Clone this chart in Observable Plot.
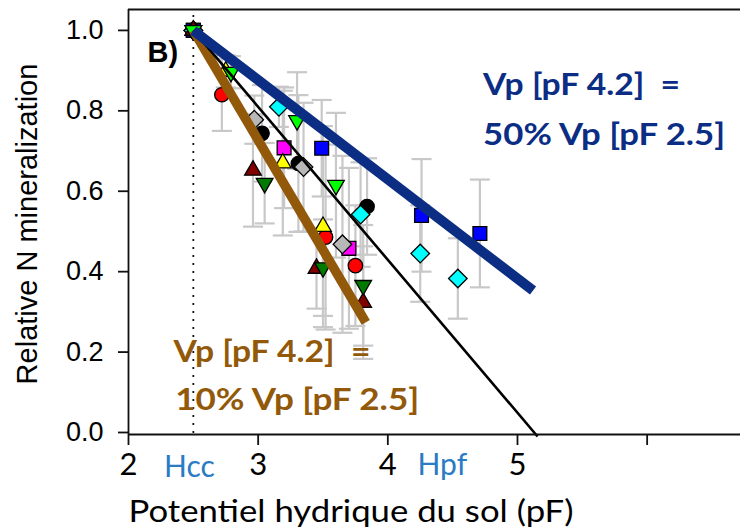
<!DOCTYPE html>
<html><head><meta charset="utf-8">
<script src="https://cdn.jsdelivr.net/npm/d3@7"></script>
<script src="https://cdn.jsdelivr.net/npm/@observablehq/plot@0.6"></script>
<style>body{margin:0;background:#fff}</style>
</head><body><div id="chart"></div>
<script>
// ---- data ----
const blackCircleX = [2.5, 3.03, 3.31, 3.84];
const blackCircleY = [1.0, 0.744, 0.669, 0.562];
const blackCircleErr = [0, 0.12, 0.17, 0.12];

const grayDiamondX = [2.5, 2.97, 3.35, 3.65];
const grayDiamondY = [1.0, 0.778, 0.66, 0.468];
const grayDiamondErr = [0, 0.06, 0.16, 0.22];

const magentaSquareX = [2.5, 3.20, 3.70];
const magentaSquareY = [1.0, 0.708, 0.458];
const magentaSquareErr = [0, 0.15, 0.2];

const yellowTriX = [2.5, 2.75, 3.19, 3.50];
const yellowTriY = [1.0, 0.898, 0.67, 0.512];
const yellowTriErr = [0, 0.04, 0.18, 0.25];

const redCircleX = [2.5, 2.72, 3.52, 3.75];
const redCircleY = [1.0, 0.84, 0.486, 0.415];
const redCircleErr = [0, 0.09, 0.23, 0.15];

const darkRedTriX = [2.5, 2.96, 3.45, 3.81];
const darkRedTriY = [1.0, 0.652, 0.408, 0.323];
const darkRedTriErr = [0, 0.14, 0.10, 0.14];

const darkGreenTriX = [2.5, 3.05, 3.50, 3.81];
const darkGreenTriY = [1.0, 0.62, 0.41, 0.366];
const darkGreenTriErr = [0, 0.10, 0.12, 0.15];

const limeTriX = [2.5, 2.79, 3.30, 3.60];
const limeTriY = [1.0, 0.896, 0.776, 0.615];
const limeTriErr = [0, 0.04, 0.12, 0.18];

const cyanDiamondX = [2.5, 3.16, 3.79, 4.25, 4.54];
const cyanDiamondY = [1.0, 0.81, 0.542, 0.445, 0.383];
const cyanDiamondErr = [0, 0.05, 0.13, 0.12, 0.10];

const blueSquareX = [2.5, 3.49, 4.26, 4.71];
const blueSquareY = [1.0, 0.707, 0.54, 0.495];
const blueSquareErr = [0, 0.12, 0.14, 0.134];

// fitted lines
const lineBlueX = [2.5, 5.12];
const lineBlueY = [1.0, 0.353];
const lineBlackX = [2.5, 5.155];
const lineBlackY = [1.0, -0.01];
const lineBrownX = [2.5, 3.83];
const lineBrownY = [1.0, 0.274];

const yTicks = [0, 0.2, 0.4, 0.6, 0.8, 1.0];
const xTicks = [2, 3, 4, 5, 6];
const xTickLabels = [2, 3, 4, 5];

// ---- styles ----
const series = [
  {xs: blackCircleX, ys: blackCircleY, es: blackCircleErr, kind: "circle", fill: "#000000"},
  {xs: grayDiamondX, ys: grayDiamondY, es: grayDiamondErr, kind: "diamond", fill: "#b8b8b8"},
  {xs: magentaSquareX, ys: magentaSquareY, es: magentaSquareErr, kind: "square", fill: "#ff00ff"},
  {xs: yellowTriX, ys: yellowTriY, es: yellowTriErr, kind: "up", fill: "#ffff00"},
  {xs: redCircleX, ys: redCircleY, es: redCircleErr, kind: "circle", fill: "#ff0000"},
  {xs: darkRedTriX, ys: darkRedTriY, es: darkRedTriErr, kind: "up", fill: "#800000"},
  {xs: darkGreenTriX, ys: darkGreenTriY, es: darkGreenTriErr, kind: "down", fill: "#007a00"},
  {xs: limeTriX, ys: limeTriY, es: limeTriErr, kind: "down", fill: "#00ff00"},
  {xs: cyanDiamondX, ys: cyanDiamondY, es: cyanDiamondErr, kind: "diamond", fill: "#00ffff"},
  {xs: blueSquareX, ys: blueSquareY, es: blueSquareErr, kind: "square", fill: "#0000ff"}
];
const pts = series.flatMap(s => s.xs.map((x, i) => ({x, y: s.ys[i], e: s.es[i], kind: s.kind, fill: s.fill})));
const bars = pts.filter(d => d.e > 0);
const caps = bars.flatMap(d => [{x: d.x, y: d.y - d.e}, {x: d.x, y: d.y + d.e}]);
const toLine = (xs, ys) => xs.map((x, i) => ({x, y: ys[i]}));

const capSymbol = {draw(ctx, size) { const w = Math.sqrt(size / Math.PI); ctx.moveTo(-w, 0); ctx.lineTo(w, 0); }};

const navy = "#0b2d84", brown = "#93590a", hblue = "#2a7bc4";
const sans = "Liberation Sans, Arial, sans-serif";
const cal = "Lato, Open Sans, sans-serif";

const dotOpts = (kind, symbol, r, rotate) => Plot.dot(pts.filter(d => d.kind === kind), {
  x: "x", y: "y", symbol, r, rotate, fill: "fill", stroke: "#000", strokeWidth: 1.3
});

const chart = Plot.plot({
  width: 740, height: 530,
  marginLeft: 128, marginRight: 0, marginTop: 9, marginBottom: 96,
  x: {domain: [2, 6.72]},
  y: {domain: [-0.005, 1.052]},
  color: {type: "identity"},
  style: {background: "#fff", overflow: "visible"},
  marks: [
    // dotted Hcc line
    Plot.ruleX([2.5], {y1: 0, y2: 1.037, stroke: "#000", strokeWidth: 2.2, strokeDasharray: "0,8", strokeLinecap: "round"}),
    // error bars
    Plot.link(bars, {x1: "x", x2: "x", y1: d => d.y - d.e, y2: d => d.y + d.e, stroke: "#c8c8c8", strokeWidth: 2.2}),
    Plot.dot(caps, {x: "x", y: "y", symbol: capSymbol, r: 10, stroke: "#c8c8c8", strokeWidth: 2.2, fill: "none"}),
    // points
    dotOpts("circle", "circle", 7.2, 0),
    dotOpts("square", "square", 7.8, 0),
    dotOpts("diamond", "square", 7.4, 45),
    dotOpts("up", "triangle", 6.2, 0),
    dotOpts("down", "triangle", 6.2, 180),
    // fitted lines
    Plot.line(toLine(lineBrownX, lineBrownY), {x: "x", y: "y", stroke: brown, strokeWidth: 9.5, strokeLinecap: "butt"}),
    Plot.line(toLine(lineBlackX, lineBlackY), {x: "x", y: "y", stroke: "#000", strokeWidth: 2.6, strokeLinecap: "butt"}),
    Plot.line(toLine(lineBlueX, lineBlueY), {x: "x", y: "y", stroke: navy, strokeWidth: 10, strokeLinecap: "butt"}),
    // frame
    Plot.ruleX([2], {stroke: "#111", strokeWidth: 1.8}),
    Plot.ruleY([1.052], {stroke: "#111", strokeWidth: 1.8}),
    Plot.ruleY([-0.005], {stroke: "#111", strokeWidth: 1.8}),
    // axes
    Plot.axisY({ticks: yTicks, tickSize: 10, tickPadding: 15, tickFormat: d3.format(".1f"), fontSize: 27, fontFamily: sans, label: null, stroke: "#111", strokeWidth: 1.8, color: "#000"}),
    Plot.axisX({ticks: xTicks, tickSize: 11, tickFormat: () => "", label: null, stroke: "#111", strokeWidth: 1.8}),
    Plot.axisX({ticks: xTickLabels, tickSize: 0, tickPadding: 18, tickFormat: d => String(d), fontSize: 31, fontFamily: cal, label: null, color: "#000"}),
    // axis titles
    Plot.text(["Relative N mineralization"], {frameAnchor: "left", textAnchor: "middle", lineAnchor: "middle", dx: -101, dy: 2, rotate: -90, fontSize: 29, fontFamily: sans, fill: "#000"}),
    Plot.text(["Potentiel hydrique du sol (pF)"], {frameAnchor: "bottom-left", textAnchor: "start", lineAnchor: "middle", dx: 0, dy: 78, fontSize: 30, fontFamily: cal, fill: "#000"}),
    // Hcc / Hpf labels
    Plot.text(["Hcc"], {x: 2.47, y: -0.005, dy: 33, fontSize: 30, fontFamily: cal, fill: hblue}),
    Plot.text(["Hpf"], {x: 4.42, y: -0.005, dy: 31, fontSize: 30, fontFamily: cal, fill: hblue}),
    // panel letter
    Plot.text(["B)"], {frameAnchor: "top-left", dx: 19, dy: 43, textAnchor: "start", lineAnchor: "middle", fontSize: 29, fontWeight: "bold", fontFamily: sans, fill: "#000"}),
    // annotations
    Plot.text(["Vp [pF 4.2]  ="], {x: 4.735, y: 0.84, textAnchor: "start", lineAnchor: "bottom", fontSize: 30, fontWeight: "bold", fontFamily: cal, fill: navy}),
    Plot.text(["50% Vp [pF 2.5]"], {x: 4.735, y: 0.716, textAnchor: "start", lineAnchor: "bottom", fontSize: 30, fontWeight: "bold", fontFamily: cal, fill: navy}),
    Plot.text(["Vp [pF 4.2]  ="], {x: 2.347, y: 0.175, textAnchor: "start", lineAnchor: "bottom", fontSize: 30, fontWeight: "bold", fontFamily: cal, fill: brown}),
    Plot.text(["10% Vp [pF 2.5]"], {x: 2.36, y: 0.055, textAnchor: "start", lineAnchor: "bottom", fontSize: 30, fontWeight: "bold", fontFamily: cal, fill: brown})
  ]
});
// stretch the wide (Calibri-like) texts to the widths seen in the reference
const widths = {"Vp [pF 4.2]  =": 197, "50% Vp [pF 2.5]": 242, "10% Vp [pF 2.5]": 244, "Potentiel hydrique du sol (pF)": 445};
chart.querySelectorAll("text").forEach(t => {
  const w = widths[t.textContent];
  if (w) { t.setAttribute("textLength", w); t.setAttribute("lengthAdjust", "spacingAndGlyphs"); }
});
document.getElementById("chart").appendChild(chart);
</script>
</body></html>
